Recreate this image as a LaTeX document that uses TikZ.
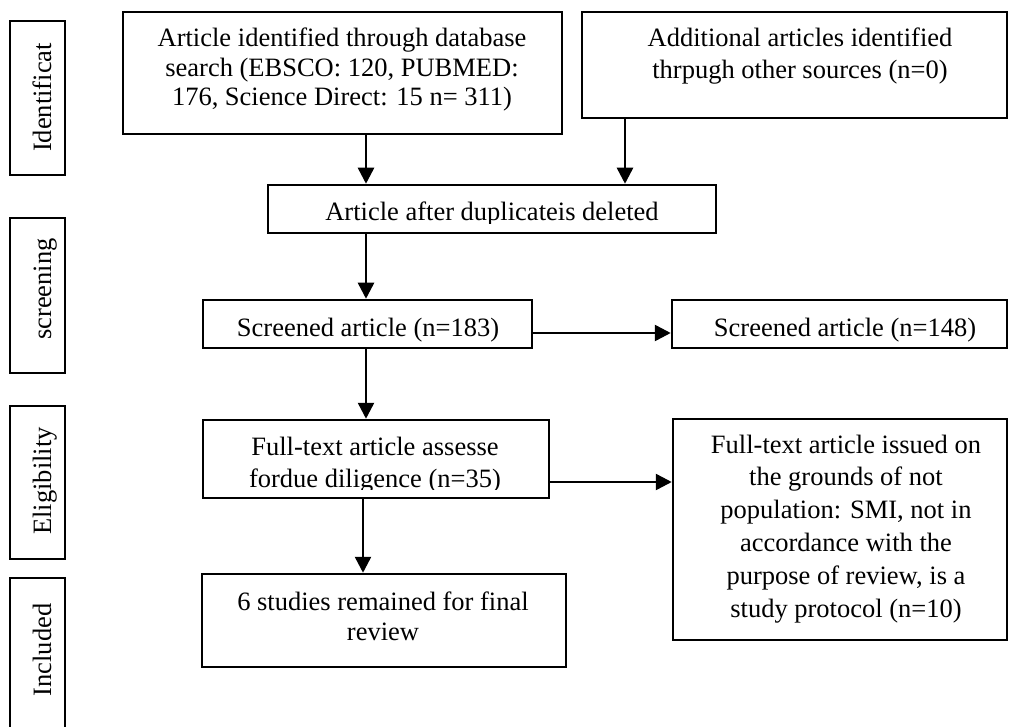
\documentclass[tikz,border=0pt]{standalone}
\usepackage{fontspec}
\setmainfont{Liberation Serif}
\usetikzlibrary{arrows.meta}
\begin{document}
\begin{tikzpicture}[x=1pt,y=-1pt,
  box/.style={draw, line width=2.5pt, rectangle, inner sep=0pt},
  txt/.style={font=\fontsize{26.5}{29.5}\selectfont, align=center, inner sep=0pt, anchor=base},
  side/.style={font=\fontsize{26.5}{30}\selectfont, rotate=90, inner sep=0pt, anchor=base},
  arr/.style={line width=2.5pt, -{Triangle[length=16pt,width=16pt]}}]
\path[use as bounding box, clip] (0,0) rectangle (1009,727);

% side boxes
\node[box, minimum width=55, minimum height=154] (sid) at (37.5,98) {};
\node[box, minimum width=55, minimum height=155] (sscr) at (37.5,295.5) {};
\node[box, minimum width=55, minimum height=153] (selig) at (37.5,482.5) {};
\node[box, minimum width=55, minimum height=162] (sinc) at (37.5,659) {};
\node[side] (tid) at (51,97.5) {Identificat};
\node[side] (tscr) at (51,289) {screening};
\node[side] (telig) at (51,481) {Eligibility};
\node[side] (tinc) at (51,650) {Included};

% main boxes
\node[box, minimum width=439, minimum height=122] (b1) at (342.5,73) {};
\node[box, minimum width=425, minimum height=106] (b2) at (794.5,65) {};
\node[box, minimum width=448, minimum height=48] (dup) at (492,209) {};
\node[box, minimum width=329, minimum height=48] (s1) at (367.5,324) {};
\node[box, minimum width=335, minimum height=48] (s2) at (839.5,324) {};
\node[box, minimum width=346, minimum height=78] (ft) at (376,459) {};
\node[box, minimum width=334, minimum height=221] (ex) at (840,529.5) {};
\node[box, minimum width=364, minimum height=93] (fin) at (384,620.5) {};

% texts (base anchor = baseline of the last line)
\node[txt] (tb1) at (342,106) {Article identified through database\\search (EBSCO: 120, PUBMED:\\176, Science Direct: 15 n= 311)};
\node[txt, font=\fontsize{26.5}{32}\selectfont] (tb2) at (800,79) {Additional articles identified\\thrpugh other sources (n=0)};
\begin{scope}
\clip (268,185) rectangle (716,224);
\node[txt] (tdup) at (492,221) {Article after duplicateis deleted};
\end{scope}
\node[txt] (ts1) at (368,336) {Screened article (n=183)};
\node[txt] (ts2) at (845,336) {Screened article (n=148)};
\begin{scope}
\clip (203,420) rectangle (549,489);
\node[txt, font=\fontsize{26.5}{32}\selectfont] (tft) at (375,487) {Full-text article assesse\\fordue diligence (n=35)};
\end{scope}
\node[txt, font=\fontsize{26.5}{32.8}\selectfont] (tex) at (846,617) {Full-text article issued on\\the grounds of not\\population: SMI, not in\\accordance with the\\purpose of review, is a\\study protocol (n=10)};
\node[txt, font=\fontsize{26.5}{30}\selectfont] (tfin) at (383,640) {6 studies remained for final\\review};

% connectors
\coordinate (xa) at (366,0);
\coordinate (xb) at (625,0);
\coordinate (xc) at (363,0);
\coordinate (ya) at (0,333);
\coordinate (yb) at (0,482);
\draw[arr] (b1.south -| xa) -- (dup.north -| xa);
\draw[arr] (b2.south -| xb) -- (dup.north -| xb);
\draw[arr] (dup.south -| xa) -- (s1.north -| xa);
\draw[arr] (s1.east |- ya) -- (s2.west |- ya);
\draw[arr] (s1.south -| xa) -- (ft.north -| xa);
\draw[arr] (ft.east |- yb) -- (ex.west |- yb);
\draw[arr] (ft.south -| xc) -- (fin.north -| xc);
\end{tikzpicture}
\end{document}
